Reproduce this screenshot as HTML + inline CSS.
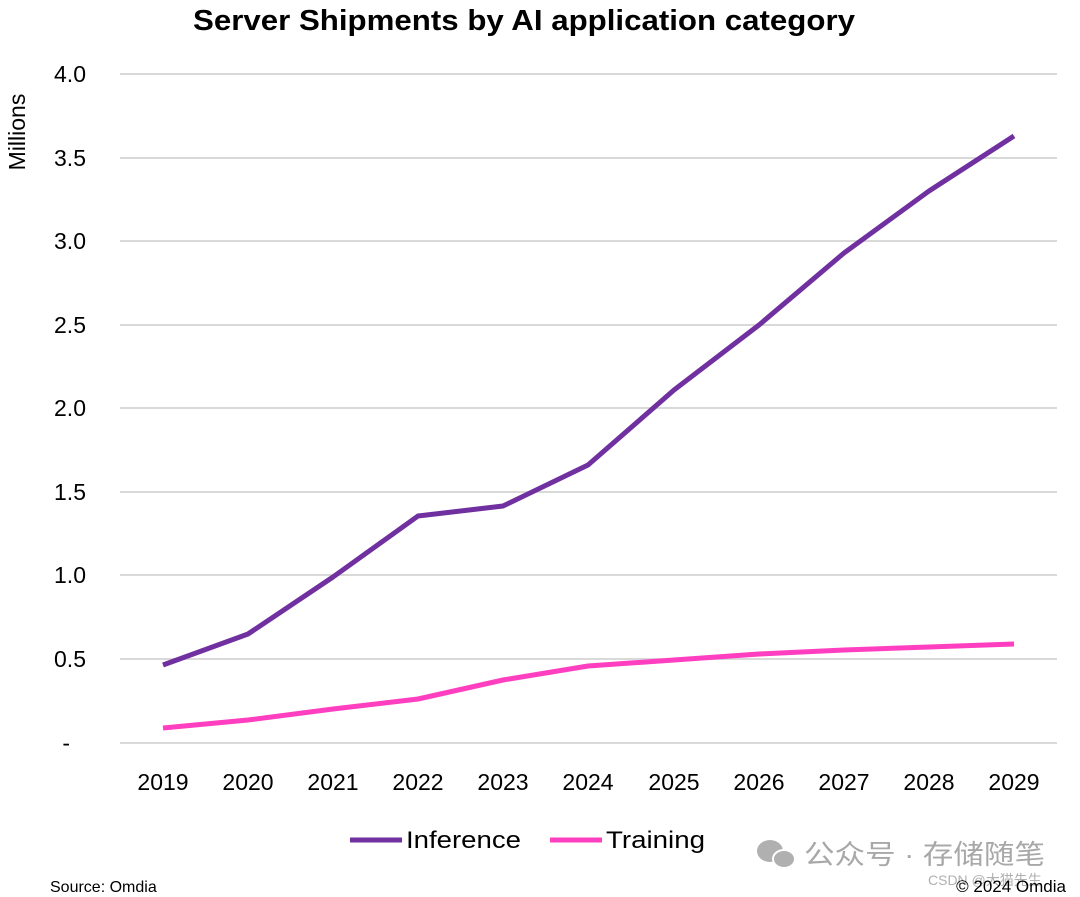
<!DOCTYPE html>
<html><head><meta charset="utf-8"><style>
html,body{margin:0;padding:0;background:#fff;}
svg{display:block;font-family:"Liberation Sans","Noto Sans CJK SC",sans-serif;}
</style></head><body>
<svg width="1080" height="897" viewBox="0 0 1080 897">
<text x="193" y="30" textLength="662" lengthAdjust="spacingAndGlyphs" font-size="29" font-weight="bold" fill="#000">Server Shipments by AI application category</text>
<g stroke="#d9d9d9" stroke-width="2">
<line x1="120" x2="1057" y1="74" y2="74"/><line x1="120" x2="1057" y1="158" y2="158"/>
<line x1="120" x2="1057" y1="241" y2="241"/><line x1="120" x2="1057" y1="325" y2="325"/>
<line x1="120" x2="1057" y1="408" y2="408"/><line x1="120" x2="1057" y1="492" y2="492"/>
<line x1="120" x2="1057" y1="575" y2="575"/><line x1="120" x2="1057" y1="659" y2="659"/>
<line x1="120" x2="1057" y1="743" y2="743"/>
</g>
<g font-size="23" fill="#000" text-anchor="end">
<text x="86" y="82">4.0</text><text x="86" y="166">3.5</text><text x="86" y="249">3.0</text>
<text x="86" y="333">2.5</text><text x="86" y="416">2.0</text><text x="86" y="500">1.5</text>
<text x="86" y="583">1.0</text><text x="86" y="667">0.5</text><text x="70" y="751">-</text>
</g>
<text transform="translate(25,132) rotate(-90)" text-anchor="middle" font-size="23">Millions</text>
<g font-size="23" text-anchor="middle">
<text x="163" y="790">2019</text><text x="248" y="790">2020</text><text x="333" y="790">2021</text>
<text x="418" y="790">2022</text><text x="503" y="790">2023</text><text x="588" y="790">2024</text>
<text x="674" y="790">2025</text><text x="759" y="790">2026</text><text x="844" y="790">2027</text>
<text x="929" y="790">2028</text><text x="1014" y="790">2029</text>
</g>
<polyline fill="none" stroke="#7030a0" stroke-width="5" stroke-linejoin="round" points="163,665 248,634 333,577 418,516 503,506 588,465 674,390 759,325 844,253 929,191 1014,136"/>
<polyline fill="none" stroke="#ff3fbf" stroke-width="5" stroke-linejoin="round" points="163,728 248,720 333,709 418,699 503,680 588,666 674,660 759,654 844,650 929,647 1014,644"/>
<line x1="350" x2="402" y1="840" y2="840" stroke="#7030a0" stroke-width="5"/>
<text x="406" y="848" font-size="24" textLength="115" lengthAdjust="spacingAndGlyphs">Inference</text>
<line x1="550" x2="602" y1="840" y2="840" stroke="#ff3fbf" stroke-width="5"/>
<text x="606" y="848" font-size="24" textLength="99" lengthAdjust="spacingAndGlyphs">Training</text>
<text x="50" y="892" font-size="16">Source: Omdia</text>
<g fill="#b0b0b0"><ellipse cx="770" cy="851" rx="13" ry="11"/><ellipse cx="784" cy="859" rx="11" ry="9" stroke="#fff" stroke-width="2"/></g>
<text x="804" y="864" font-size="27" fill="#a8a8a8" textLength="241" lengthAdjust="spacingAndGlyphs">公众号 · 存储随笔</text>
<text x="928" y="885" font-size="14" fill="#b0b0b0">CSDN @大猫先生</text>
<text x="1066" y="892" font-size="17" text-anchor="end" fill="#000">© 2024 Omdia</text>
</svg>
</body></html>
